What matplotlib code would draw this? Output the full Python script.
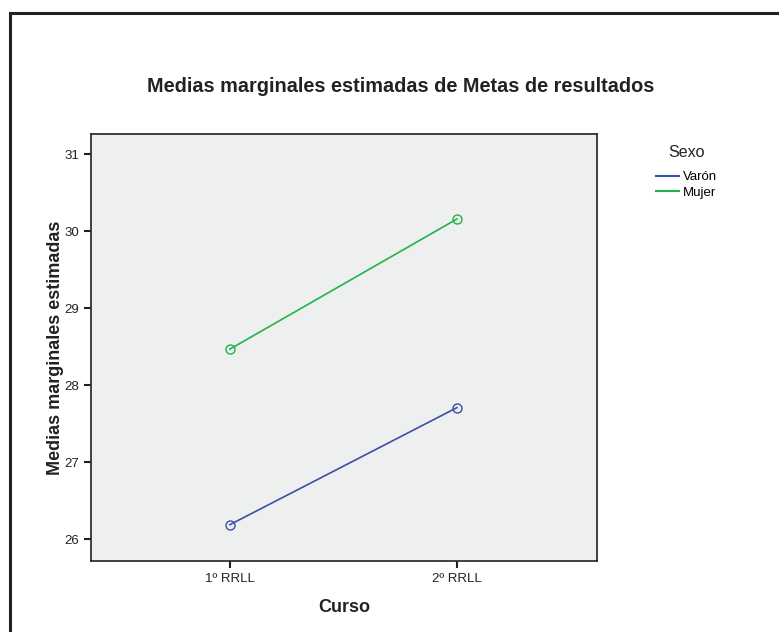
import numpy as np
import matplotlib
matplotlib.use('Agg')
import matplotlib.pyplot as plt
from matplotlib.lines import Line2D

plt.rcParams['font.family'] = ['Liberation Sans', 'DejaVu Sans']

# data
cursos = ['1º RRLL', '2º RRLL']
varon = [26.19, 27.71]
mujer = [28.47, 30.16]
yticks = [26, 27, 28, 29, 30, 31]
azul = '#3a4fa6'
verde = '#22b24c'

W, H = 779, 632
fig = plt.figure(figsize=(W / 100, H / 100), dpi=100)

# outer frame (left and top edges visible)
fig.add_artist(Line2D([10 / W, 10 / W], [0, 1 - 13 / H], color='#222222', lw=2.2))
fig.add_artist(Line2D([10 / W, 1], [1 - 13 / H, 1 - 13 / H], color='#222222', lw=2.2))

ax = fig.add_axes([91 / W, 1 - 561 / H, (597 - 91) / W, (561 - 134) / H])
ax.set_facecolor('#eef0ef')

x = np.arange(len(cursos))
ax.plot(x, varon, color=azul, lw=1.2, marker='o', markersize=6.5,
        markerfacecolor='none', markeredgewidth=1.0)
ax.plot(x, mujer, color=verde, lw=1.2, marker='o', markersize=6.5,
        markerfacecolor='none', markeredgewidth=1.0)

ax.set_xlim(-0.612, 1.617)
ax.set_ylim(25.718, 31.264)
ax.set_xticks(x)
ax.set_xticklabels(cursos)
ax.set_yticks(yticks)
ax.tick_params(axis='both', labelsize=9.5, colors='#222222', length=5, width=1.5)
for s in ax.spines.values():
    s.set_color('#222222')
    s.set_linewidth(1.2)

ax.set_xlabel('Curso', fontsize=13, fontweight='bold', labelpad=10, color='#222222')
ax.set_ylabel('Medias marginales estimadas', fontsize=13, fontweight='bold',
              labelpad=0, color='#222222')

fig.text(401 / W, 1 - 86 / H, 'Medias marginales estimadas de Metas de resultados',
         ha='center', va='center', fontsize=14.3, fontweight='bold', color='#222222')

handles = [Line2D([], [], color=azul, lw=1.5), Line2D([], [], color=verde, lw=1.5)]
leg = fig.legend(handles, ['Varón', 'Mujer'], loc='upper left',
                 bbox_to_anchor=(644 / W, 1 - 133 / H),
                 title='Sexo', frameon=False, fontsize=9.5, title_fontsize=11.5,
                 handlelength=1.75, handletextpad=0.3, labelspacing=0.25)
leg.get_title().set_color('#222222')
leg._legend_box.sep = 8

fig.savefig('out.png', dpi=100)
